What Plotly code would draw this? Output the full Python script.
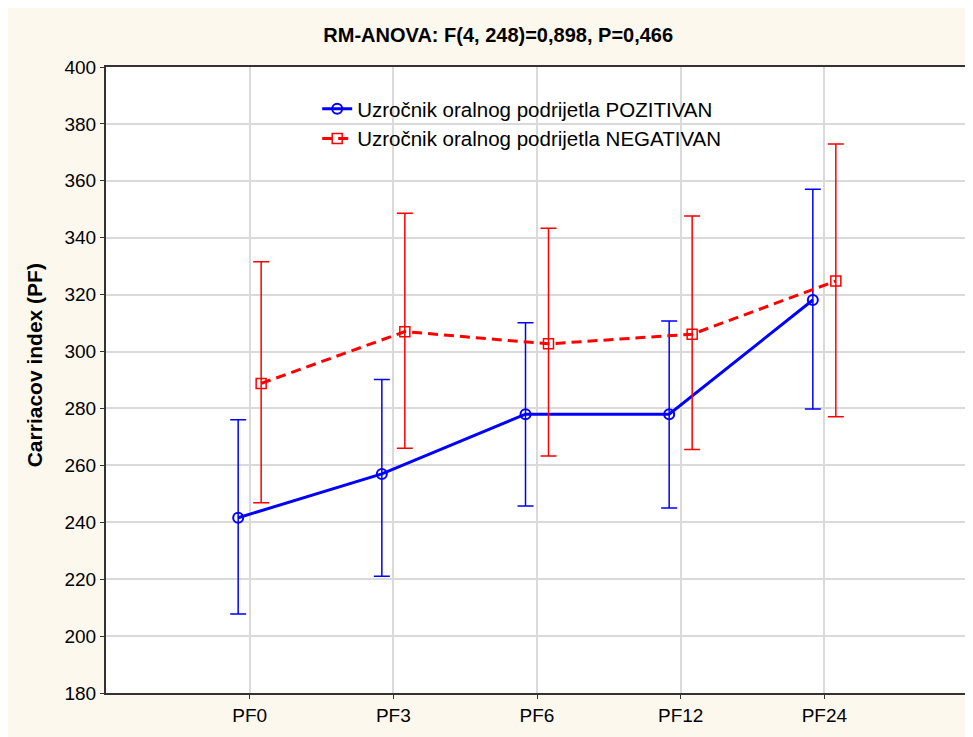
import plotly.graph_objects as go

# podaci očitani s grafikona
kategorije = ['PF0', 'PF3', 'PF6', 'PF12', 'PF24']
poz_sredina = [241.6, 257.0, 278.0, 278.0, 318.1]
poz_gornja = [276.0, 290.2, 310.1, 310.7, 357.0]
poz_donja = [207.8, 221.0, 245.7, 245.0, 279.8]
neg_sredina = [288.8, 307.0, 302.7, 306.1, 324.8]
neg_gornja = [331.6, 348.6, 343.3, 347.6, 372.9]
neg_donja = [246.9, 266.0, 263.3, 265.6, 277.1]

pomak = 0.08
x_poz = [i - pomak for i in range(len(kategorije))]
x_neg = [i + pomak for i in range(len(kategorije))]

fig = go.Figure()

fig.add_trace(go.Scatter(
    x=x_poz, y=poz_sredina,
    mode='lines+markers',
    name='Uzročnik oralnog podrijetla POZITIVAN',
    line=dict(color='#0000ff', width=3),
    marker=dict(symbol='circle-open', size=10, color='#0000ff', line=dict(width=2)),
    error_y=dict(type='data', symmetric=False,
                 array=[g - s for g, s in zip(poz_gornja, poz_sredina)],
                 arrayminus=[s - d for s, d in zip(poz_sredina, poz_donja)],
                 color='#0000ff', thickness=1.5, width=8),
))

fig.add_trace(go.Scatter(
    x=x_neg, y=neg_sredina,
    mode='lines+markers',
    name='Uzročnik oralnog podrijetla NEGATIVAN',
    line=dict(color='#ff0000', width=3, dash='10px,6px'),
    marker=dict(symbol='square-open', size=10, color='#ff0000', line=dict(width=1.5)),
    error_y=dict(type='data', symmetric=False,
                 array=[g - s for g, s in zip(neg_gornja, neg_sredina)],
                 arrayminus=[s - d for s, d in zip(neg_sredina, neg_donja)],
                 color='#ff0000', thickness=1.5, width=8),
))

# naslov osi y kao anotacija
fig.add_annotation(text='<b>Carriacov index (PF)</b>', textangle=-90,
                   xref='paper', yref='paper', x=-0.082, y=0.524,
                   xanchor='center', yanchor='middle', showarrow=False,
                   font=dict(size=21))

fig.update_layout(
    width=965, height=729,
    margin=dict(l=98, r=3, t=59, b=44),
    paper_bgcolor='#fdf8ee',
    plot_bgcolor='white',
    font=dict(family='Arial, Liberation Sans, sans-serif', color='black', size=19),
    title=dict(text='<b>RM-ANOVA: F(4, 248)=0,898, P=0,466</b>',
               x=0.508, xanchor='center', y=0.963, yanchor='middle',
               font=dict(size=20)),
    showlegend=True,
    legend=dict(x=0.245, y=0.965, xanchor='left', yanchor='top',
                bgcolor='rgba(0,0,0,0)', font=dict(size=20.5),
                tracegroupgap=0, itemwidth=30),
    xaxis=dict(
        range=[-1, 5],
        tickmode='array', tickvals=list(range(len(kategorije))), ticktext=kategorije,
        tickfont=dict(size=19),
        showgrid=True, gridcolor='#dadada', gridwidth=1.5,
        showline=True, linecolor='#333333', linewidth=2, mirror=True,
        ticks='outside', ticklen=4, tickcolor='#333333',
        zeroline=False,
    ),
    yaxis=dict(
        range=[180, 400], dtick=20,
        tickfont=dict(size=19),
        showgrid=True, gridcolor='#dadada', gridwidth=1.5,
        showline=True, linecolor='#333333', linewidth=2, mirror=True,
        ticks='outside', ticklen=4, tickcolor='#333333',
        zeroline=False,
    ),
)

fig.write_html('out.html')
